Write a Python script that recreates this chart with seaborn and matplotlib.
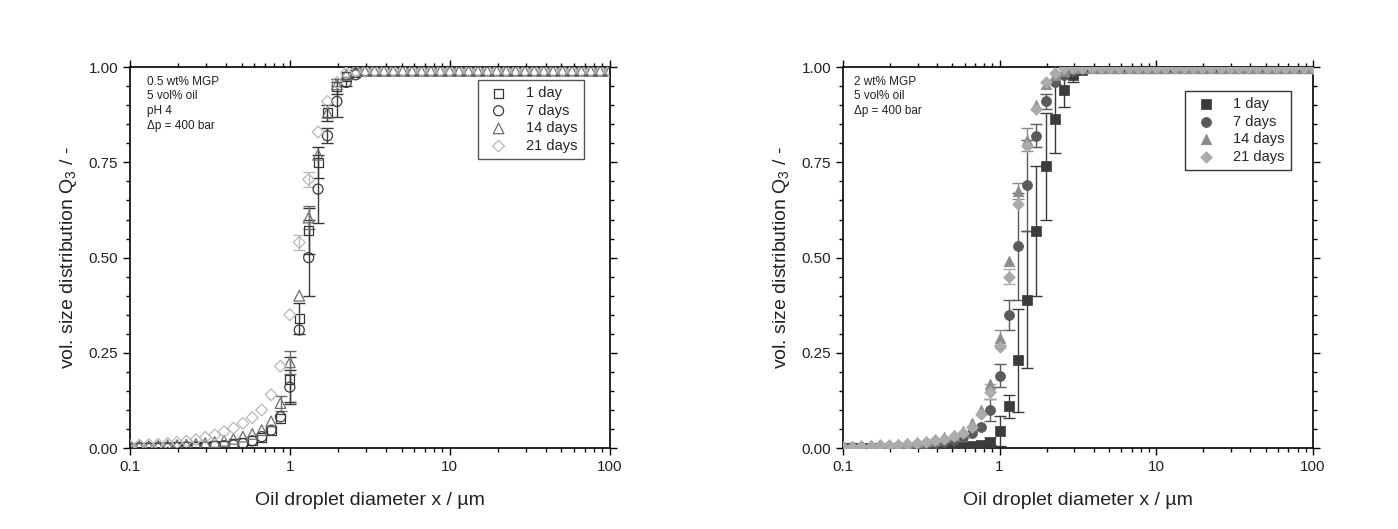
import numpy as np
import pandas as pd
import seaborn as sns
import matplotlib.pyplot as plt
from matplotlib.ticker import FixedLocator, FixedFormatter, LogLocator, NullFormatter, MultipleLocator, FormatStrFormatter

# droplet size classes (um)
x_um = [0.1, 0.1145, 0.1311, 0.1501, 0.1719, 0.1969, 0.2254, 0.2582, 0.2956, 0.3385,
        0.3876, 0.4438, 0.5083, 0.582, 0.6665, 0.7632, 0.874,
        1.0, 1.145, 1.311, 1.501, 1.719, 1.969, 2.254, 2.582, 2.956, 3.385,
        3.876, 4.438, 5.083, 5.82, 6.665, 7.632, 8.74,
        10.0, 11.45, 13.11, 15.01, 17.19, 19.69, 22.54, 25.82, 29.56, 33.85,
        38.76, 44.38, 50.83, 58.2, 66.65, 76.32, 87.4, 100.0]

labels = ["1 day", "7 days", "14 days", "21 days"]

# left panel: 0.5 wt% MGP, pH 4
left_1d = [0.001, 0.001, 0.002, 0.002, 0.002, 0.003, 0.003, 0.004, 0.005, 0.006,
           0.008, 0.011, 0.015, 0.021, 0.029, 0.045, 0.078,
           0.18, 0.34, 0.57, 0.75, 0.88, 0.95, 0.975, 0.985, 0.99, 0.99,
           0.99, 0.99, 0.99, 0.99, 0.99, 0.99, 0.99,
           0.99, 0.99, 0.99, 0.99, 0.99, 0.99, 0.99, 0.99, 0.99, 0.99,
           0.99, 0.99, 0.99, 0.99, 0.99, 0.99, 0.99, 0.99]
left_7d = [0.001, 0.001, 0.001, 0.002, 0.002, 0.002, 0.003, 0.003, 0.004, 0.005,
           0.006, 0.008, 0.012, 0.019, 0.03, 0.047, 0.082,
           0.16, 0.31, 0.50, 0.68, 0.82, 0.91, 0.96, 0.98, 0.99, 0.99,
           0.99, 0.99, 0.99, 0.99, 0.99, 0.99, 0.99,
           0.99, 0.99, 0.99, 0.99, 0.99, 0.99, 0.99, 0.99, 0.99, 0.99,
           0.99, 0.99, 0.99, 0.99, 0.99, 0.99, 0.99, 0.99]
left_14d = [0.004, 0.005, 0.005, 0.006, 0.007, 0.008, 0.009, 0.011, 0.013, 0.016,
            0.019, 0.024, 0.03, 0.037, 0.047, 0.07, 0.118,
            0.225, 0.40, 0.605, 0.77, 0.88, 0.955, 0.98, 0.99, 0.99, 0.99,
            0.99, 0.99, 0.99, 0.99, 0.99, 0.99, 0.99,
            0.99, 0.99, 0.99, 0.99, 0.99, 0.99, 0.99, 0.99, 0.99, 0.99,
            0.99, 0.99, 0.99, 0.99, 0.99, 0.99, 0.99, 0.99]
left_21d = [0.006, 0.008, 0.009, 0.01, 0.012, 0.015, 0.018, 0.022, 0.028, 0.034,
            0.043, 0.052, 0.065, 0.08, 0.10, 0.14, 0.215,
            0.35, 0.54, 0.705, 0.83, 0.91, 0.96, 0.985, 0.99, 0.99, 0.99,
            0.99, 0.99, 0.99, 0.99, 0.99, 0.99, 0.99,
            0.99, 0.99, 0.99, 0.99, 0.99, 0.99, 0.99, 0.99, 0.99, 0.99,
            0.99, 0.99, 0.99, 0.99, 0.99, 0.99, 0.99, 0.99]

left_1d_err = [0, 0, 0, 0, 0, 0, 0, 0, 0, 0, 0, 0, 0, 0, 0, 0, 0,
               0.06, 0.04, 0.06, 0.04, 0.02, 0.02, 0, 0, 0, 0, 0, 0, 0, 0, 0, 0, 0,
               0, 0, 0, 0, 0, 0, 0, 0, 0, 0, 0, 0, 0, 0, 0, 0, 0, 0]
left_7d_err = [0, 0, 0, 0, 0, 0, 0, 0, 0, 0, 0, 0, 0, 0, 0, 0, 0,
               0.045, 0, 0.10, 0.09, 0.02, 0.04, 0.01, 0, 0, 0, 0, 0, 0, 0, 0, 0, 0,
               0, 0, 0, 0, 0, 0, 0, 0, 0, 0, 0, 0, 0, 0, 0, 0, 0, 0]
left_14d_err = [0, 0, 0, 0, 0, 0, 0, 0, 0, 0, 0, 0, 0, 0, 0, 0, 0.02,
                0.03, 0, 0.03, 0, 0, 0, 0, 0, 0, 0, 0, 0, 0, 0, 0, 0, 0,
                0, 0, 0, 0, 0, 0, 0, 0, 0, 0, 0, 0, 0, 0, 0, 0, 0, 0]
left_21d_err = [0, 0, 0, 0, 0, 0, 0, 0, 0, 0, 0, 0, 0, 0, 0, 0, 0,
                0, 0.02, 0.02, 0, 0, 0, 0, 0, 0, 0, 0, 0, 0, 0, 0, 0, 0,
                0, 0, 0, 0, 0, 0, 0, 0, 0, 0, 0, 0, 0, 0, 0, 0, 0, 0]

# right panel: 2 wt% MGP
right_1d = [0.0, 0.0, 0.0, 0.0, 0.0, 0.0, 0.0, 0.001, 0.001, 0.001,
            0.002, 0.002, 0.003, 0.004, 0.005, 0.008, 0.017,
            0.045, 0.11, 0.23, 0.39, 0.57, 0.74, 0.865, 0.94, 0.98, 0.993,
            0.997, 0.997, 0.997, 0.997, 0.997, 0.997, 0.997,
            0.997, 0.997, 0.997, 0.997, 0.997, 0.997, 0.997, 0.997, 0.997, 0.997,
            0.997, 0.997, 0.997, 0.997, 0.997, 0.997, 0.997, 0.997]
right_7d = [0.002, 0.002, 0.002, 0.003, 0.003, 0.004, 0.005, 0.006, 0.007, 0.009,
            0.012, 0.016, 0.021, 0.028, 0.039, 0.056, 0.10,
            0.19, 0.35, 0.53, 0.69, 0.82, 0.91, 0.96, 0.98, 0.99, 0.997,
            0.997, 0.997, 0.997, 0.997, 0.997, 0.997, 0.997,
            0.997, 0.997, 0.997, 0.997, 0.997, 0.997, 0.997, 0.997, 0.997, 0.997,
            0.997, 0.997, 0.997, 0.997, 0.997, 0.997, 0.997, 0.997]
right_14d = [0.004, 0.005, 0.006, 0.007, 0.008, 0.009, 0.011, 0.013, 0.015, 0.018,
             0.022, 0.028, 0.035, 0.045, 0.065, 0.10, 0.168,
             0.29, 0.49, 0.675, 0.81, 0.90, 0.955, 0.98, 0.99, 0.997, 0.997,
             0.997, 0.997, 0.997, 0.997, 0.997, 0.997, 0.997,
             0.997, 0.997, 0.997, 0.997, 0.997, 0.997, 0.997, 0.997, 0.997, 0.997,
             0.997, 0.997, 0.997, 0.997, 0.997, 0.997, 0.997, 0.997]
right_21d = [0.003, 0.004, 0.005, 0.006, 0.007, 0.008, 0.009, 0.011, 0.013, 0.016,
             0.02, 0.025, 0.032, 0.04, 0.055, 0.089, 0.148,
             0.266, 0.45, 0.642, 0.793, 0.89, 0.96, 0.985, 0.997, 0.997, 0.997,
             0.997, 0.997, 0.997, 0.997, 0.997, 0.997, 0.997,
             0.997, 0.997, 0.997, 0.997, 0.997, 0.997, 0.997, 0.997, 0.997, 0.997,
             0.997, 0.997, 0.997, 0.997, 0.997, 0.997, 0.997, 0.997]

right_1d_err = [0, 0, 0, 0, 0, 0, 0, 0, 0, 0, 0, 0, 0, 0, 0, 0, 0.01,
                0.04, 0.03, 0.135, 0.18, 0.17, 0.14, 0.09, 0.045, 0.02, 0, 0, 0, 0, 0, 0, 0, 0,
                0, 0, 0, 0, 0, 0, 0, 0, 0, 0, 0, 0, 0, 0, 0, 0, 0, 0]
right_7d_err = [0, 0, 0, 0, 0, 0, 0, 0, 0, 0, 0, 0, 0, 0, 0, 0, 0.03,
                0.03, 0.04, 0.14, 0.12, 0.03, 0.02, 0, 0, 0, 0, 0, 0, 0, 0, 0, 0, 0,
                0, 0, 0, 0, 0, 0, 0, 0, 0, 0, 0, 0, 0, 0, 0, 0, 0, 0]
right_14d_err = [0, 0, 0, 0, 0, 0, 0, 0, 0, 0, 0, 0, 0, 0, 0, 0, 0,
                 0.02, 0, 0.02, 0.03, 0, 0, 0, 0, 0, 0, 0, 0, 0, 0, 0, 0, 0,
                 0, 0, 0, 0, 0, 0, 0, 0, 0, 0, 0, 0, 0, 0, 0, 0, 0, 0]
right_21d_err = [0, 0, 0, 0, 0, 0, 0, 0, 0, 0, 0, 0, 0, 0, 0, 0, 0.02,
                 0, 0.02, 0, 0, 0, 0, 0, 0, 0, 0, 0, 0, 0, 0, 0, 0, 0,
                 0, 0, 0, 0, 0, 0, 0, 0, 0, 0, 0, 0, 0, 0, 0, 0, 0, 0]

x_ticks = [0.1, 1, 10, 100]
x_ticklabels = ["0.1", "1", "10", "100"]

sns.set_theme(style="ticks")
plt.rcParams['font.family'] = ['Liberation Sans', 'DejaVu Sans']
plt.rcParams['mathtext.default'] = 'regular'

markers = ['s', 'o', '^', 'D']
sizes = [42, 52, 58, 36]
left_colors = ['#333333', '#3a3a3a', '#6e6e6e', '#b8b8b8']
right_colors = ['#3b3b3b', '#5a5a5a', '#8c8c8c', '#ababab']

fig = plt.figure(figsize=(13.98, 5.29), dpi=100)
ax_l = fig.add_axes([0.093, 0.153, 0.343, 0.720])
ax_r = fig.add_axes([0.603, 0.153, 0.336, 0.720])


def draw_panel(ax, series, errors, colors, filled):
    for lab, y, err, c, m, s in zip(labels, series, errors, colors, markers, sizes):
        df = pd.DataFrame({'x': x_um, 'q3': y, 'err': err})
        e = df[df['err'] > 0]
        ax.errorbar(e['x'], e['q3'], yerr=e['err'], fmt='none', ecolor=c,
                    elinewidth=1.0, capsize=4.5, capthick=1.0, zorder=2)
        if filled:
            sns.scatterplot(data=df, x='x', y='q3', ax=ax, marker=m, s=s, color=c,
                            edgecolor=c, linewidth=0.5, label=lab, zorder=3)
        else:
            sns.scatterplot(data=df, x='x', y='q3', ax=ax, marker=m, s=s, color=c,
                            facecolors='none', edgecolor=c, linewidth=0.9,
                            label=lab, zorder=3)

    ax.set_xscale('log')
    ax.set_xlim(0.1, 100)
    ax.set_ylim(0, 1)
    ax.xaxis.set_major_locator(FixedLocator(x_ticks))
    ax.xaxis.set_major_formatter(FixedFormatter(x_ticklabels))
    ax.xaxis.set_minor_locator(LogLocator(base=10, subs=np.arange(2, 10)))
    ax.xaxis.set_minor_formatter(NullFormatter())
    ax.yaxis.set_major_locator(MultipleLocator(0.25))
    ax.yaxis.set_minor_locator(MultipleLocator(0.05))
    ax.yaxis.set_major_formatter(FormatStrFormatter('%.2f'))
    ax.tick_params(which='both', direction='out', top=True, right=True,
                   labeltop=False, labelright=False, color='black', width=1.0,
                   labelsize=11, labelcolor='#222222')
    ax.tick_params(which='major', length=5)
    ax.tick_params(which='minor', length=3)
    for sp in ax.spines.values():
        sp.set_visible(True)
        sp.set_color('black')
        sp.set_linewidth(1.2)
    ax.set_xlabel('Oil droplet diameter x / µm', fontsize=14, labelpad=13, color='#222222')
    ax.set_ylabel('vol. size distribution Q$_{3}$ / -', fontsize=14, labelpad=7, color='#222222')


draw_panel(ax_l, [left_1d, left_7d, left_14d, left_21d],
           [left_1d_err, left_7d_err, left_14d_err, left_21d_err], left_colors, False)
draw_panel(ax_r, [right_1d, right_7d, right_14d, right_21d],
           [right_1d_err, right_7d_err, right_14d_err, right_21d_err], right_colors, True)

ax_l.text(0.035, 0.978, '0.5 wt% MGP\n5 vol% oil\npH 4\nΔp = 400 bar', transform=ax_l.transAxes,
          fontsize=8.5, va='top', ha='left', linespacing=1.3, color='#222222')
ax_r.text(0.023, 0.978, '2 wt% MGP\n5 vol% oil\nΔp = 400 bar', transform=ax_r.transAxes,
          fontsize=8.5, va='top', ha='left', linespacing=1.3, color='#222222')

leg_l = ax_l.legend(loc='upper right', bbox_to_anchor=(0.946, 0.966), borderaxespad=0,
                    fontsize=10.5, fancybox=False, framealpha=1, edgecolor='#555555',
                    labelspacing=0.25, handletextpad=0.9, borderpad=0.4)
leg_l.get_frame().set_linewidth(1.0)
leg_r = ax_r.legend(loc='upper right', bbox_to_anchor=(0.953, 0.937), borderaxespad=0,
                    fontsize=10.5, fancybox=False, framealpha=1, edgecolor='#333333',
                    labelspacing=0.25, handletextpad=0.9, borderpad=0.4)
leg_r.get_frame().set_linewidth(1.0)

plt.savefig('out.png', dpi=100)
